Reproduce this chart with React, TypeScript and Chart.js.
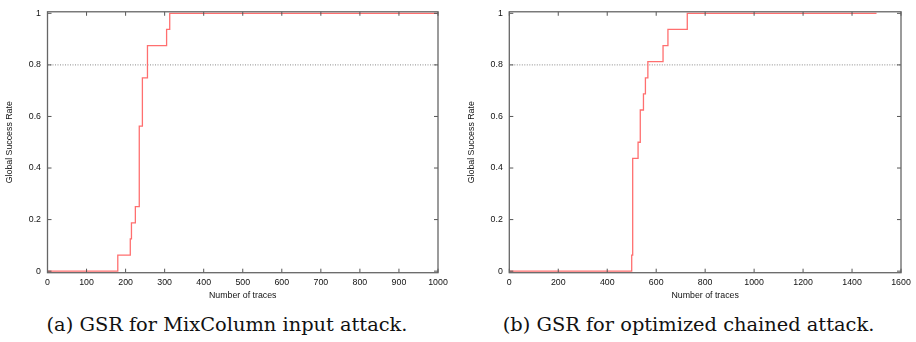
import React, { useEffect, useRef } from "react";
import { Chart, registerables } from "chart.js";

Chart.register(...registerables);

// ---- Data ----
// (a) MixColumn input attack: step positions (number of traces) and GSR after the step
const LEFT_X = [0, 180, 212, 215, 225, 235, 243, 256, 305, 313, 1000];
const LEFT_Y = [0, 0.0625, 0.125, 0.1875, 0.25, 0.5625, 0.75, 0.875, 0.9375, 1, 1];
const LEFT_X_TICKS = [0, 100, 200, 300, 400, 500, 600, 700, 800, 900, 1000];
const LEFT_X_MAX = 1000;

// (b) optimized chained attack
const RIGHT_X = [0, 500, 504, 526, 535, 548, 556, 566, 628, 648, 727, 1500];
const RIGHT_Y = [0, 0.0625, 0.4375, 0.5, 0.625, 0.6875, 0.75, 0.8125, 0.875, 0.9375, 1, 1];
const RIGHT_X_TICKS = [0, 200, 400, 600, 800, 1000, 1200, 1400, 1600];
const RIGHT_X_MAX = 1600;

const Y_TICKS = [0, 0.2, 0.4, 0.6, 0.8, 1];
const THRESHOLD = 0.8;

const X_TITLE = "Number of traces";
const Y_TITLE = "Global Success Rate";
const LEFT_CAPTION = "(a) GSR for MixColumn input attack.";
const RIGHT_CAPTION = "(b) GSR for optimized chained attack.";

const FONT = "'Liberation Sans', Arial, sans-serif";
const TICK_LEN = 4;

const framePlugin = {
  id: "gnuFrame",
  afterDatasetsDraw(chart: any) {
    const { ctx, chartArea: a, scales } = chart;
    ctx.save();
    ctx.strokeStyle = "#555";
    ctx.lineWidth = 1;
    ctx.beginPath();
    for (const t of scales.x.ticks) {
      const px = scales.x.getPixelForValue(t.value);
      ctx.moveTo(px, a.bottom);
      ctx.lineTo(px, a.bottom - TICK_LEN);
      ctx.moveTo(px, a.top);
      ctx.lineTo(px, a.top + TICK_LEN);
    }
    for (const t of scales.y.ticks) {
      const py = scales.y.getPixelForValue(t.value);
      ctx.moveTo(a.left, py);
      ctx.lineTo(a.left + TICK_LEN, py);
      ctx.moveTo(a.right, py);
      ctx.lineTo(a.right - TICK_LEN, py);
    }
    ctx.stroke();
    ctx.lineWidth = 1.3;
    ctx.strokeStyle = "#666";
    ctx.strokeRect(a.left, a.top, a.right - a.left, a.bottom - a.top);
    ctx.restore();
  },
};

type GsrProps = {
  xs: number[];
  ys: number[];
  xTicks: number[];
  xMax: number;
  yAxisWidth: number;
  padTop: number;
  padRight: number;
  yTitlePad: number;
};

function GsrChart(props: GsrProps) {
  const ref = useRef<HTMLCanvasElement | null>(null);
  useEffect(() => {
    const { xs, ys, xTicks, xMax, yAxisWidth, padTop, padRight, yTitlePad } = props;
    if (!ref.current) return;
    const chart = new Chart(ref.current, {
      type: "line",
      data: {
        datasets: [
          {
            data: xs.map((x, i) => ({ x, y: ys[i] })),
            borderColor: "#ff6f6f",
            borderWidth: 1.3,
            pointRadius: 0,
            stepped: "before",
            fill: false,
          },
          {
            data: [
              { x: 0, y: THRESHOLD },
              { x: xMax, y: THRESHOLD },
            ],
            borderColor: "#8a8a8a",
            borderWidth: 1,
            borderDash: [1, 1.5],
            pointRadius: 0,
            fill: false,
          },
        ],
      },
      options: {
        responsive: false,
        animation: false,
        events: [],
        layout: { padding: { top: padTop, right: padRight, left: 0, bottom: 0 } },
        plugins: { legend: { display: false }, tooltip: { enabled: false }, title: { display: false } },
        scales: {
          x: {
            type: "linear",
            min: 0,
            max: xMax,
            grid: { display: false, drawTicks: false, tickLength: 0 },
            border: { display: false },
            afterBuildTicks: (s: any) => {
              s.ticks = xTicks.map((v) => ({ value: v }));
            },
            afterFit: (s: any) => {
              s.height = 32.3;
            },
            ticks: {
              padding: 5,
              color: "#111",
              font: { family: FONT, size: 8.8 },
              maxRotation: 0,
              autoSkip: false,
              callback: (v: any) => String(v),
            },
            title: {
              display: true,
              text: X_TITLE,
              color: "#111",
              font: { family: FONT, size: 8.8 },
              padding: { top: 0, bottom: 3.7 },
            },
          },
          y: {
            type: "linear",
            min: -0.006,
            max: 1.006,
            grid: { display: false, drawTicks: false, tickLength: 0 },
            border: { display: false },
            afterBuildTicks: (s: any) => {
              s.ticks = Y_TICKS.map((v) => ({ value: v }));
            },
            afterFit: (s: any) => {
              s.width = yAxisWidth;
            },
            ticks: {
              padding: 6.5,
              color: "#111",
              font: { family: FONT, size: 8.8 },
              autoSkip: false,
              callback: (v: any) => String(Math.round(Number(v) * 10) / 10),
            },
            title: {
              display: true,
              text: Y_TITLE,
              color: "#111",
              font: { family: FONT, size: 8.8 },
              padding: { top: yTitlePad, bottom: 0 },
            },
          },
        },
      },
      plugins: [framePlugin],
    } as any);
    return () => chart.destroy();
  }, []);
  return <canvas ref={ref} width={458} height={305} style={{ display: "block", width: 458, height: 305 }} />;
}

const captionStyle: React.CSSProperties = {
  position: "absolute",
  top: 314,
  transform: "translateX(-50%)",
  whiteSpace: "nowrap",
  fontFamily: "'DejaVu Serif', 'Liberation Serif', serif",
  fontSize: 19.4,
  lineHeight: "22px",
  color: "#111",
};

export default function App() {
  return (
    <div style={{ position: "absolute", left: 0, top: 0, width: 916, height: 342, background: "#fff", overflow: "hidden" }}>
      <div style={{ position: "absolute", left: 0, top: 0 }}>
        <GsrChart
          xs={LEFT_X}
          ys={LEFT_Y}
          xTicks={LEFT_X_TICKS}
          xMax={LEFT_X_MAX}
          yAxisWidth={47.5}
          padTop={5.3}
          padRight={20}
          yTitlePad={4.7}
        />
      </div>
      <div style={{ position: "absolute", left: 458, top: 0 }}>
        <GsrChart
          xs={RIGHT_X}
          ys={RIGHT_Y}
          xTicks={RIGHT_X_TICKS}
          xMax={RIGHT_X_MAX}
          yAxisWidth={51.3}
          padTop={4.7}
          padRight={15}
          yTitlePad={8.7}
        />
      </div>
      <div style={{ ...captionStyle, left: 227 }}>{LEFT_CAPTION}</div>
      <div style={{ ...captionStyle, left: 688.5 }}>{RIGHT_CAPTION}</div>
    </div>
  );
}
